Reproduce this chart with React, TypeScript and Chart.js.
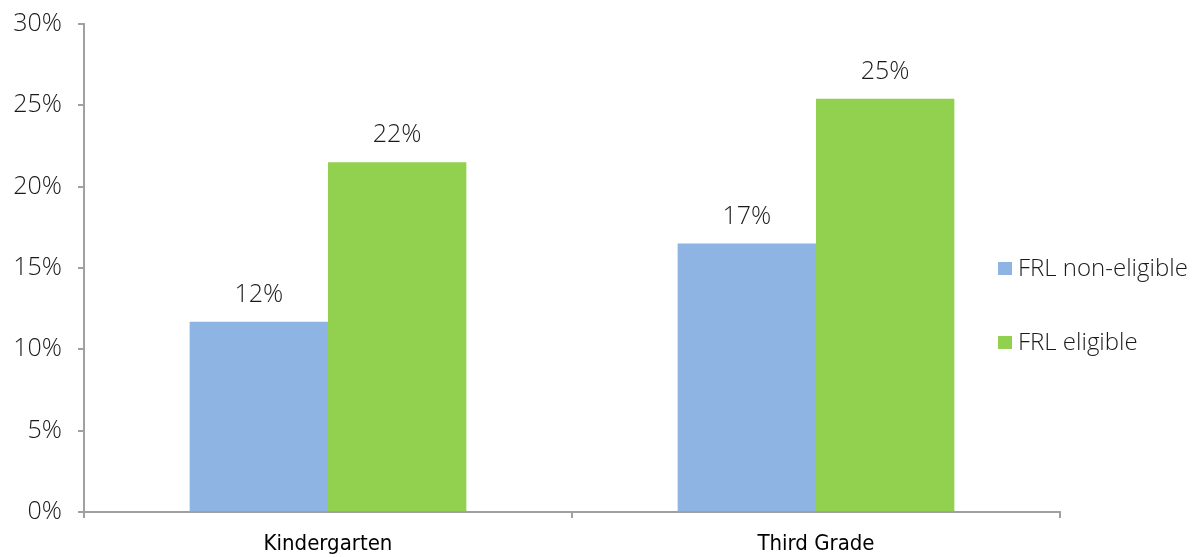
import React, { useEffect, useRef } from "react";
import { Chart, registerables } from "chart.js";

Chart.register(...registerables);

const categories = ["Kindergarten", "Third Grade"];
const seriesNames = ["FRL non-eligible", "FRL eligible"];
const nonEligible = [11.7, 16.5];
const eligible = [21.5, 25.4];
const yTicks = [0, 5, 10, 15, 20, 25, 30];
const colors = ["#8EB4E3", "#92D050"];

const TEXT_FONT = "'Open Sans', 'Noto Sans', sans-serif";
const CAT_FONT = "'Liberation Sans Narrow', 'DejaVu Sans Condensed', 'Noto Sans', sans-serif";

const dataLabels = {
  id: "dataLabels",
  afterDatasetsDraw(chart: any) {
    const ctx = chart.ctx;
    ctx.save();
    ctx.font = `300 25px ${TEXT_FONT}`;
    ctx.fillStyle = "#1a1a1a";
    ctx.textAlign = "center";
    ctx.textBaseline = "middle";
    chart.data.datasets.forEach((ds: any, i: number) => {
      const meta = chart.getDatasetMeta(i);
      meta.data.forEach((el: any, j: number) => {
        ctx.fillText(Math.round(ds.data[j]) + "%", el.x, el.y - 27);
      });
    });
    ctx.restore();
  },
};

const customLegend = {
  id: "customLegend",
  afterDraw(chart: any) {
    const ctx = chart.ctx;
    ctx.save();
    ctx.font = `300 24px ${TEXT_FONT}`;
    ctx.textAlign = "left";
    ctx.textBaseline = "middle";
    const centers = [269, 343];
    chart.data.datasets.forEach((ds: any, i: number) => {
      const cy = centers[i];
      ctx.fillStyle = ds.backgroundColor;
      ctx.fillRect(998, cy - 7, 14, 13);
      ctx.fillStyle = "#1a1a1a";
      ctx.fillText(ds.label, 1018, cy);
    });
    ctx.restore();
  },
};

export default function App() {
  const ref = useRef<HTMLCanvasElement>(null);
  useEffect(() => {
    if (!ref.current) return;
    const chart = new Chart(ref.current, {
      type: "bar",
      data: {
        labels: categories,
        datasets: [
          { label: seriesNames[0], data: nonEligible, backgroundColor: colors[0] },
          { label: seriesNames[1], data: eligible, backgroundColor: colors[1] },
        ],
      },
      options: {
        animation: false,
        responsive: true,
        maintainAspectRatio: false,
        datasets: { bar: { categoryPercentage: 0.567, barPercentage: 1.0 } },
        layout: { padding: { left: 0, right: 144, top: 24, bottom: 0 } },
        plugins: { legend: { display: false }, tooltip: { enabled: false } },
        scales: {
          x: {
            grid: { drawOnChartArea: false, drawTicks: true, tickLength: 6, color: "#a0a0a0", lineWidth: 2, offset: true },
            border: { color: "#a0a0a0", width: 2 },
            ticks: { color: "#000", padding: 13, font: { family: CAT_FONT, size: 22 } },
            afterFit: (s: any) => { s.height = 45; s.paddingLeft = 0; s.paddingRight = 0; },
          },
          y: {
            min: 0,
            max: 30,
            afterBuildTicks: (s: any) => { s.ticks = yTicks.map((v) => ({ value: v })); },
            grid: { drawOnChartArea: false, drawTicks: true, tickLength: 6, color: "#a0a0a0", lineWidth: 2 },
            border: { color: "#a0a0a0", width: 2 },
            ticks: { color: "#1a1a1a", padding: 16, font: { family: TEXT_FONT, size: 25, weight: "300" }, callback: (v: any) => v + "%" },
            afterFit: (s: any) => { s.width = 84; s.paddingTop = 0; s.paddingBottom = 0; },
          },
        },
      },
      plugins: [dataLabels, customLegend],
    });
    return () => chart.destroy();
  }, []);
  return (
    <div style={{ position: "absolute", left: 0, top: 0, width: 1204, height: 557 }}>
      <canvas ref={ref} />
    </div>
  );
}
